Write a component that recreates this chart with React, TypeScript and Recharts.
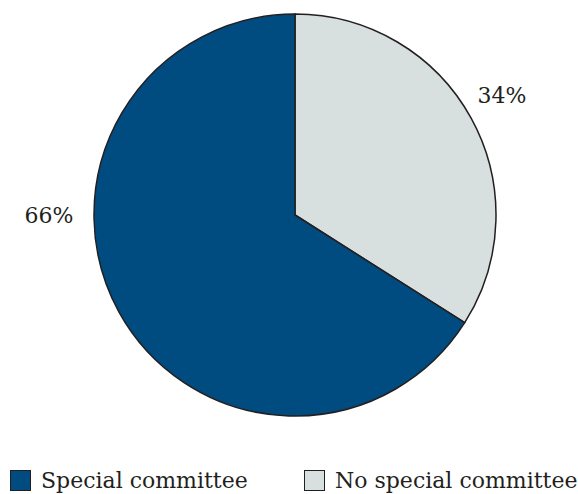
import { PieChart, Pie, Cell, Legend } from "recharts";

const names = ["No special committee", "Special committee"];
const values = [34, 66];
const labels = ["34%", "66%"];

const COLORS = ["#d7dfdf", "#004b7f"];
// where each label sits: angle (deg, ccw from east) and gap beyond the rim
const LABEL_ANGLE = [30, 180];
const LABEL_GAP = [38, 45];

const data = names.map((name, i) => ({ name, value: values[i], label: labels[i] }));
const legendOrder = [1, 0];

const FONT = "'DejaVu Serif', serif";

const renderLabel = (props: any) => {
  const { cx, cy, outerRadius, index } = props;
  const a = (LABEL_ANGLE[index] * Math.PI) / 180;
  const r = outerRadius + LABEL_GAP[index];
  const x = cx + r * Math.cos(a);
  const y = cy - r * Math.sin(a);
  return (
    <text
      x={x}
      y={y}
      textAnchor="middle"
      dominantBaseline="central"
      fill="#231f20"
      fontSize={22}
      fontFamily={FONT}
    >
      {data[index].label}
    </text>
  );
};

const renderLegend = () => (
  <div style={{ position: "relative", height: 30, fontFamily: FONT, fontSize: 22, color: "#231f20" }}>
    {legendOrder.map((i, k) => (
      <div
        key={i}
        style={{ position: "absolute", left: k === 0 ? 10 : 304, top: 0, display: "flex", alignItems: "center" }}
      >
        <span
          style={{
            display: "inline-block",
            width: 19,
            height: 19,
            background: COLORS[i],
            border: "1.5px solid #231f20",
            marginRight: 10,
          }}
        />
        <span>{names[i]}</span>
      </div>
    ))}
  </div>
);

export default function App() {
  return (
    <div style={{ position: "absolute", left: 0, top: 0, background: "#fff" }}>
      <PieChart width={578} height={494} margin={{ top: 0, right: 0, bottom: 0, left: 0 }}>
        <Pie
          data={data}
          dataKey="value"
          nameKey="name"
          cx={295}
          cy={215}
          outerRadius={201}
          startAngle={90}
          endAngle={-270}
          stroke="#231f20"
          strokeWidth={1.5}
          label={renderLabel}
          labelLine={false}
          isAnimationActive={false}
        >
          {data.map((_, i) => (
            <Cell key={i} fill={COLORS[i]} />
          ))}
        </Pie>
        <Legend
          verticalAlign="bottom"
          align="left"
          content={renderLegend}
          wrapperStyle={{ left: 0, bottom: -4, width: 578 }}
        />
      </PieChart>
    </div>
  );
}
